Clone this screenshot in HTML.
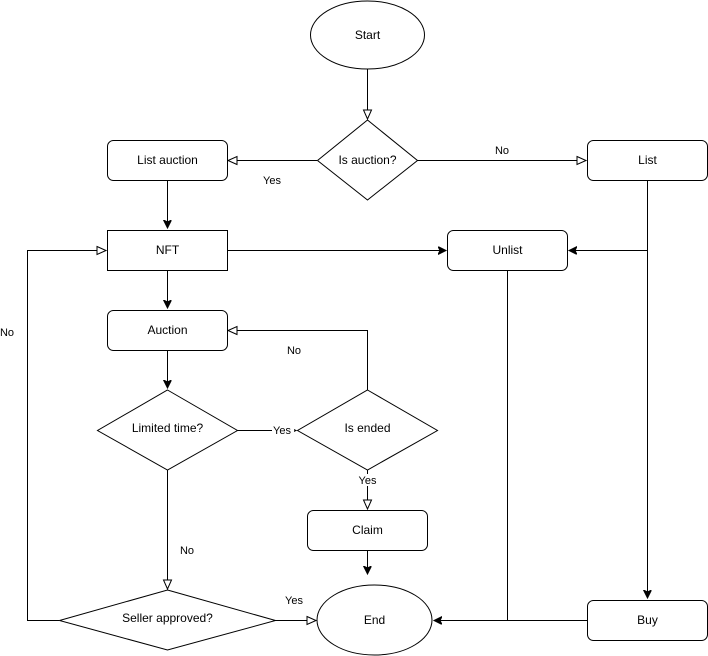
<!DOCTYPE html>
<html><head><meta charset="utf-8"><style>
html,body{margin:0;padding:0;background:#fff;}
svg{display:block;}
text{font-family:"Liberation Sans",Arial,sans-serif;font-size:12px;fill:#000;}
.s{fill:#fff;stroke:#000;stroke-width:1;}
.l{fill:none;stroke:#000;stroke-width:1;}
</style></head><body>
<svg width="708" height="656" viewBox="0 0 708 656" xmlns="http://www.w3.org/2000/svg">
<defs>
<marker id="h" markerWidth="12" markerHeight="10" refX="10" refY="5" orient="auto" markerUnits="userSpaceOnUse">
<path d="M1,1 L10,5 L1,9 Z" fill="#fff" stroke="#000" stroke-width="1"/></marker>
<marker id="f" markerWidth="10" markerHeight="10" refX="8" refY="4" orient="auto" markerUnits="userSpaceOnUse">
<path d="M0,0 L8,4 L0,8 L2,4 Z" fill="#000" stroke="#000" stroke-width="1"/></marker>
</defs>
<!-- connectors -->
<path class="l" d="M367.5,69 C367.5,85 367.5,95 367.5,119" marker-end="url(#h)"/>
<path class="l" d="M317,160.5 L228,160.5" marker-end="url(#h)"/>
<path class="l" d="M417,160.5 L586,160.5" marker-end="url(#h)"/>
<path class="l" d="M167.5,180 L167.5,228" marker-end="url(#f)"/>
<path class="l" d="M227,250.5 L446,250.5" marker-end="url(#f)"/>
<path class="l" d="M647.5,180 L647.5,598" marker-end="url(#f)"/>
<path class="l" d="M647.5,250.5 L569,250.5" marker-end="url(#f)"/>
<path class="l" d="M167.5,270 L167.5,308" marker-end="url(#f)"/>
<path class="l" d="M167.5,350 L167.5,388" marker-end="url(#f)"/>
<path class="l" d="M237,430.5 L296,430.5" marker-end="url(#h)"/>
<path class="l" d="M367.5,390 L367.5,330.5 L228,330.5" marker-end="url(#h)"/>
<path class="l" d="M367.5,470 L367.5,509" marker-end="url(#h)"/>
<path class="l" d="M367.5,550 L367.5,574" marker-end="url(#f)"/>
<path class="l" d="M167.5,470 L167.5,589" marker-end="url(#h)"/>
<path class="l" d="M275,620.5 L316,620.5" marker-end="url(#h)"/>
<path class="l" d="M59,620.5 L27.5,620.5 L27.5,250.5 L106,250.5" marker-end="url(#h)"/>
<path class="l" d="M507.5,270 L507.5,620.5 L434,620.5" marker-end="url(#f)"/>
<path class="l" d="M587,620.5 L507.5,620.5"/>
<!-- shapes -->
<ellipse class="s" cx="367.5" cy="35" rx="57" ry="34"/>
<text x="367.5" y="39" text-anchor="middle">Start</text>
<polygon class="s" points="367.5,120 417.5,160.5 367.5,200 317.5,160.5"/>
<text x="367.5" y="164" text-anchor="middle">Is auction?</text>
<rect class="s" x="107.5" y="140.5" width="120" height="40" rx="6"/>
<text x="167.5" y="164" text-anchor="middle">List auction</text>
<rect class="s" x="587.5" y="140.5" width="120" height="40" rx="6"/>
<text x="647.5" y="164" text-anchor="middle">List</text>
<rect class="s" x="107.5" y="230.5" width="120" height="40"/>
<text x="167.5" y="254" text-anchor="middle">NFT</text>
<rect class="s" x="447.5" y="230.5" width="120" height="40" rx="6"/>
<text x="507.5" y="254" text-anchor="middle">Unlist</text>
<rect class="s" x="107.5" y="310.5" width="120" height="40" rx="6"/>
<text x="167.5" y="334" text-anchor="middle">Auction</text>
<polygon class="s" points="167.5,390 237.5,430.5 167.5,470 97.5,430.5"/>
<text x="167.5" y="432" text-anchor="middle">Limited time?</text>
<polygon class="s" points="367.5,390 437.5,430.5 367.5,470 297.5,430.5"/>
<text x="367.5" y="432" text-anchor="middle">Is ended</text>
<rect class="s" x="307.5" y="510.5" width="120" height="40" rx="6"/>
<text x="367.5" y="534" text-anchor="middle">Claim</text>
<polygon class="s" points="167.5,590 275.5,620.5 167.5,650 59.5,620.5"/>
<text x="167.5" y="622" text-anchor="middle">Seller approved?</text>
<ellipse class="s" cx="374.5" cy="620" rx="57.5" ry="35"/>
<text x="374.5" y="624" text-anchor="middle">End</text>
<rect class="s" x="587.5" y="600.5" width="120" height="40" rx="6"/>
<text x="647.5" y="624" text-anchor="middle">Buy</text>
<!-- labels -->
<g style="font-size:11px">
<text x="272" y="184" text-anchor="middle" style="font-size:11px">Yes</text>
<text x="502" y="154" text-anchor="middle" style="font-size:11px">No</text>
<rect x="272" y="424" width="22" height="13" fill="#fff"/>
<text x="282" y="434" text-anchor="middle" style="font-size:11px">Yes</text>
<text x="294" y="354" text-anchor="middle" style="font-size:11px">No</text>
<rect x="357" y="474" width="22" height="12" fill="#fff"/>
<text x="367.5" y="484" text-anchor="middle" style="font-size:11px">Yes</text>
<text x="187" y="554" text-anchor="middle" style="font-size:11px">No</text>
<text x="294" y="604" text-anchor="middle" style="font-size:11px">Yes</text>
<text x="7" y="336" text-anchor="middle" style="font-size:11px">No</text>
</g>
</svg>
</body></html>
